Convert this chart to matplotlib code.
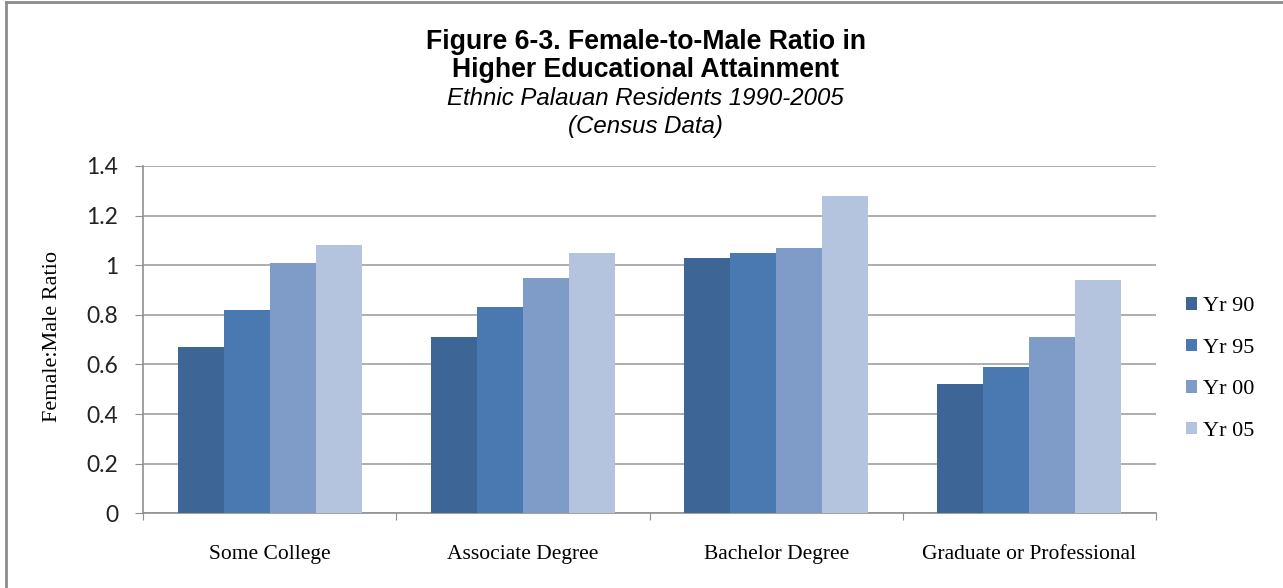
import numpy as np
import matplotlib.pyplot as plt
from matplotlib.lines import Line2D

categories = ["Some College", "Associate Degree", "Bachelor Degree", "Graduate or Professional"]
series = ["Yr 90", "Yr 95", "Yr 00", "Yr 05"]
yr90 = [0.67, 0.71, 1.03, 0.52]
yr95 = [0.82, 0.83, 1.05, 0.59]
yr00 = [1.01, 0.95, 1.07, 0.71]
yr05 = [1.08, 1.05, 1.28, 0.94]
colors = ["#3d6696", "#4a78b0", "#7f9cc9", "#b4c4df"]

fig = plt.figure(figsize=(12.83, 5.88), dpi=100)
ax = fig.add_axes([143 / 1283, 1 - 513.3 / 588, (1156 - 143) / 1283, (513.3 - 166) / 588])

x = np.arange(len(categories))
w = 0.1815
for i, vals in enumerate([yr90, yr95, yr00, yr05]):
    ax.bar(x + (i - 1.5) * w, vals, width=w, color=colors[i], label=series[i], zorder=3)

ax.set_xlim(-0.5, len(categories) - 0.5)
ax.set_ylim(0, 1.4)
ax.set_yticks(np.arange(0, 1.41, 0.2))
ax.set_yticklabels(["0", "0.2", "0.4", "0.6", "0.8", "1", "1.2", "1.4"],
                   fontfamily="Lato", fontsize=16.5, color="#222222")
ax.yaxis.grid(True, color="#a0a0a0", linewidth=1.2, zorder=0)

# category labels at centres, ticks at boundaries
ax.set_xticks(np.arange(-0.5, len(categories)), minor=False)
ax.set_xticklabels([])
ax.set_xticks(x, minor=True)
ax.set_xticklabels(categories, minor=True, fontfamily="Liberation Serif", fontsize=15.5)
ax.tick_params(axis="x", which="minor", length=0, pad=23)
ax.tick_params(axis="x", which="major", length=5, color="#909090")
ax.tick_params(axis="y", length=6, color="#909090", pad=12)

for s in ["top", "right"]:
    ax.spines[s].set_visible(False)
for s in ["left", "bottom"]:
    ax.spines[s].set_color("#909090")
    ax.spines[s].set_linewidth(1.2)

ax.set_ylabel("Female:Male Ratio", fontfamily="Liberation Serif", fontsize=16)
ax.yaxis.set_label_coords((62 - 143) / (1156 - 143), 0.508)

ax.legend(loc="center left", bbox_to_anchor=(1186 / 1283, 1 - 369 / 588), bbox_transform=fig.transFigure,
          frameon=False, prop={"family": "Liberation Serif", "size": 16},
          handlelength=0.5, handleheight=0.5, handletextpad=0.25, labelspacing=1.0,
          borderpad=0, borderaxespad=0)

fig.text(0.5034, 0.929, "Figure 6-3. Female-to-Male Ratio in", ha="center", va="center",
         fontfamily="Liberation Sans", fontweight="bold", fontsize=19.2)
fig.text(0.5034, 0.881, "Higher Educational Attainment", ha="center", va="center",
         fontfamily="Liberation Sans", fontweight="bold", fontsize=19.2)
fig.text(0.5034, 0.833, "Ethnic Palauan Residents 1990-2005", ha="center", va="center",
         fontfamily="Liberation Sans", style="italic", fontsize=17.3)
fig.text(0.5034, 0.7845, "(Census Data)", ha="center", va="center",
         fontfamily="Liberation Sans", style="italic", fontsize=17.3)

# outer frame
fig.add_artist(Line2D([6 / 1283, 1], [1 - 2 / 588, 1 - 2 / 588], color="#8c8c8c", lw=2, transform=fig.transFigure))
fig.add_artist(Line2D([6 / 1283, 6 / 1283], [0, 1 - 2 / 588], color="#8c8c8c", lw=2, transform=fig.transFigure))

fig.savefig("out.png", dpi=100)
